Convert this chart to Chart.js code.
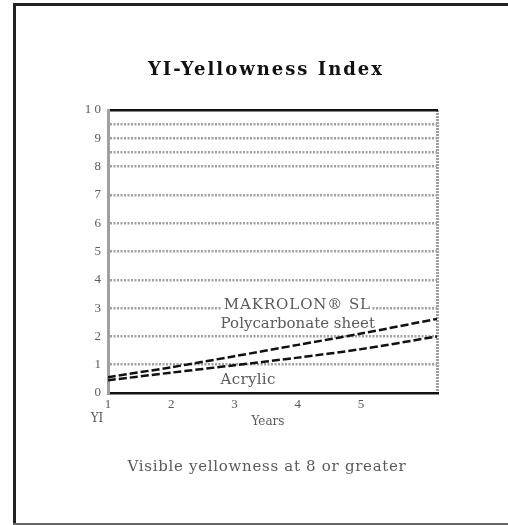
<!DOCTYPE html>
<html>
<head>
<meta charset="utf-8">
<script src="https://cdn.jsdelivr.net/npm/chart.js@4.4.0/dist/chart.umd.min.js"></script>
<style>
  html, body { margin: 0; padding: 0; background: #fff; }
  #wrap { width: 508px; height: 525px; }
</style>
</head>
<body>
<div id="wrap"><canvas id="yi-chart" width="508" height="525"></canvas></div>
<script>
// x axis: years (last point sits on the right edge of the plot)
const years = [1, 2, 3, 4, 5, 6.2];
const yearTicks = [1, 2, 3, 4, 5];
const yearsMax = 6.2;

// yellowness index
const makrolonValues = [0.56, 0.91, 1.30, 1.70, 2.10, 2.62];
const acrylicValues = [0.45, 0.72, 0.98, 1.25, 1.55, 2.00];

// y ticks, plus the two extra half lines near the top
const yiTicks = [0, 1, 2, 3, 4, 5, 6, 7, 8, 9, 10];
const extraLines = [8.5, 9.5];

const gridGray = '#a0a0a0';
const textGray = '#5a5a5a';

function toPoints(values) {
    return years.map((x, i) => ({ x: x, y: values[i] }));
}

// page frame, title, captions and the labels on the curves
const textPlugin = {
    id: 'yiText',
    beforeDraw(chart) {
        const ctx = chart.ctx;
        ctx.save();
        ctx.fillStyle = '#fff';
        ctx.fillRect(0, 0, chart.width, chart.height);
        ctx.strokeStyle = '#222';
        ctx.lineWidth = 3;
        ctx.beginPath();
        ctx.moveTo(14.5, 3);
        ctx.lineTo(14.5, 525);
        ctx.moveTo(13, 4.5);
        ctx.lineTo(508, 4.5);
        ctx.stroke();
        ctx.strokeStyle = '#666';
        ctx.lineWidth = 2;
        ctx.beginPath();
        ctx.moveTo(13, 524);
        ctx.lineTo(508, 524);
        ctx.stroke();
        ctx.restore();
    },
    beforeDatasetsDraw(chart) {
        const ctx = chart.ctx;
        const x = chart.scales.x;
        const y = chart.scales.y;
        ctx.save();
        ctx.textBaseline = 'middle';
        ctx.textAlign = 'left';
        ctx.font = '15px "DejaVu Serif"';

        // MAKROLON label sits on the 3 line, with a white box under it
        const mx = x.getPixelForValue(2.83);
        const my = y.getPixelForValue(3.12);
        const mText = 'MAKROLON® SL';
        ctx.letterSpacing = '0.9px';
        const mw = ctx.measureText(mText).width;
        ctx.fillStyle = '#fff';
        ctx.fillRect(mx - 2, my - 8, mw + 2, 16);
        ctx.fillStyle = textGray;
        ctx.fillText(mText, mx, my);

        ctx.letterSpacing = '0px';
        ctx.fillText('Polycarbonate sheet', x.getPixelForValue(2.78), y.getPixelForValue(2.45));
        ctx.letterSpacing = '0.3px';
        ctx.fillText('Acrylic', x.getPixelForValue(2.78), y.getPixelForValue(0.45));
        ctx.restore();
    },
    afterDraw(chart) {
        const ctx = chart.ctx;
        ctx.save();
        ctx.textAlign = 'center';
        ctx.textBaseline = 'middle';
        ctx.fillStyle = '#111';
        ctx.font = 'bold 18px "DejaVu Serif"';
        ctx.letterSpacing = '2px';
        ctx.fillText('YI-Yellowness Index', 266, 70);

        ctx.fillStyle = textGray;
        ctx.font = '15px "DejaVu Serif"';
        ctx.letterSpacing = '0.7px';
        ctx.fillText('Visible yellowness at 8 or greater', 267, 467);

        ctx.font = '12px "DejaVu Serif"';
        ctx.letterSpacing = '0px';
        ctx.fillText('Years', 268, 422);
        ctx.fillText('YI', 97, 419);
        ctx.restore();
    }
};

new Chart(document.getElementById('yi-chart'), {
    type: 'line',
    data: {
        datasets: [{
            label: 'MAKROLON® SL Polycarbonate sheet',
            data: toPoints(makrolonValues),
            borderColor: '#111',
            borderWidth: 2.5,
            borderDash: [8, 3],
            pointRadius: 0,
            tension: 0.3,
            fill: false
        }, {
            label: 'Acrylic',
            data: toPoints(acrylicValues),
            borderColor: '#111',
            borderWidth: 2.5,
            borderDash: [8, 3],
            pointRadius: 0,
            tension: 0.3,
            fill: false
        }]
    },
    options: {
        responsive: false,
        animation: false,
        layout: {
            padding: { left: 78, right: 71, top: 110, bottom: 100 }
        },
        scales: {
            x: {
                type: 'linear',
                min: 1,
                max: yearsMax,
                afterBuildTicks: s => { s.ticks = yearTicks.concat([yearsMax]).map(v => ({ value: v })); },
                afterFit: s => { s.height = 32; },
                ticks: {
                    autoSkip: false,
                    maxRotation: 0,
                    padding: 4,
                    color: textGray,
                    font: { family: 'Liberation Serif', size: 13 },
                    callback: v => (v === yearsMax ? '' : v)
                },
                grid: {
                    drawTicks: false,
                    lineWidth: 3,
                    color: c => (c.tick && c.tick.value === yearsMax ? gridGray : 'transparent')
                },
                border: { color: '#111', width: 2.5, dash: [2, 1] }
            },
            xTop: {
                type: 'linear',
                position: 'top',
                min: 1,
                max: yearsMax,
                afterFit: s => { s.height = 0; },
                ticks: { display: false },
                grid: { display: false, drawTicks: false },
                border: { color: '#111', width: 2.5 }
            },
            y: {
                min: 0,
                max: 10,
                afterBuildTicks: s => { s.ticks = yiTicks.concat(extraLines).map(v => ({ value: v })); },
                afterFit: s => { s.width = 30; },
                ticks: {
                    autoSkip: false,
                    padding: 7,
                    color: textGray,
                    font: { family: 'Liberation Serif', size: 13 },
                    callback: v => (v === 10 ? '1 0' : (Number.isInteger(v) ? v : ''))
                },
                grid: {
                    drawTicks: false,
                    lineWidth: 2.5,
                    color: c => (c.tick && (c.tick.value === 0 || c.tick.value === 10) ? 'transparent' : gridGray)
                },
                border: { color: gridGray, width: 3, dash: [2, 1.5] }
            }
        },
        plugins: {
            legend: { display: false },
            tooltip: { enabled: false }
        }
    },
    plugins: [textPlugin]
});
</script>
</body>
</html>
